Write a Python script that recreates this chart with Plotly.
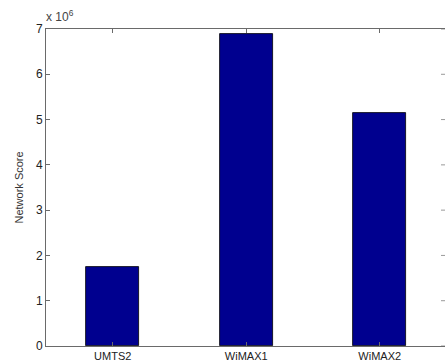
import plotly.graph_objects as go

networks = ["UMTS2", "WiMAX1", "WiMAX2"]
scores = [1.74e6, 6.90e6, 5.15e6]
y_ticks = [0, 1, 2, 3, 4, 5, 6, 7]
y_label = "Network Score"

W, H = 445, 362
L, R, T, B = 46, 0, 29, 16
axis_col = "#6a6a6a"
font = dict(family="Liberation Sans, Arial, sans-serif", size=11, color="#222")

fig = go.Figure(
    go.Bar(
        x=networks,
        y=scores,
        width=0.4,
        marker=dict(color="rgb(0,0,143)", line=dict(color="#000", width=0.8)),
    )
)

plot_w = W - L - R
unit_px = 133.5  # pixels per category step
x_max = -0.5 + plot_w / unit_px

fig.update_layout(
    width=W,
    height=H,
    margin=dict(l=L, r=R, t=T, b=B),
    paper_bgcolor="white",
    plot_bgcolor="white",
    font=font,
    showlegend=False,
    bargap=0,
)
fig.update_xaxes(
    range=[-0.5, x_max],
    showline=True,
    linecolor=axis_col,
    linewidth=1,
    mirror="ticks",
    ticks="inside",
    ticklen=4,
    tickcolor=axis_col,
    showgrid=False,
    zeroline=False,
    tickfont=font,
)
fig.update_yaxes(
    range=[0, 7e6],
    tickvals=[v * 1e6 for v in y_ticks],
    ticktext=[str(v) for v in y_ticks],
    showline=True,
    linecolor=axis_col,
    linewidth=1,
    ticks="inside",
    ticklen=4,
    tickcolor=axis_col,
    showgrid=False,
    zeroline=False,
    tickfont=dict(family=font["family"], size=12, color="#222"),
)

# short tick marks along the right edge
for v in y_ticks:
    fig.add_shape(
        type="line", xref="paper", yref="y",
        x0=1 - 4 / plot_w, x1=1, y0=v * 1e6, y1=v * 1e6,
        line=dict(color="#9a9a9a", width=1),
    )

# exponent label above the y axis
fig.add_annotation(
    xref="paper", yref="paper",
    x=-2 / plot_w, y=1 + 13 / (H - T - B),
    text="x 10<sup>6</sup>", showarrow=False,
    xanchor="left", yanchor="middle",
    font=dict(family=font["family"], size=12, color="#444"),
)

# y-axis title
fig.add_annotation(
    xref="paper", yref="paper",
    x=(18 - L) / plot_w, y=0.5,
    text=y_label, textangle=-90, showarrow=False,
    xanchor="center", yanchor="middle",
    font=dict(family=font["family"], size=11, color="#333"),
)

fig.write_html("out.html")
